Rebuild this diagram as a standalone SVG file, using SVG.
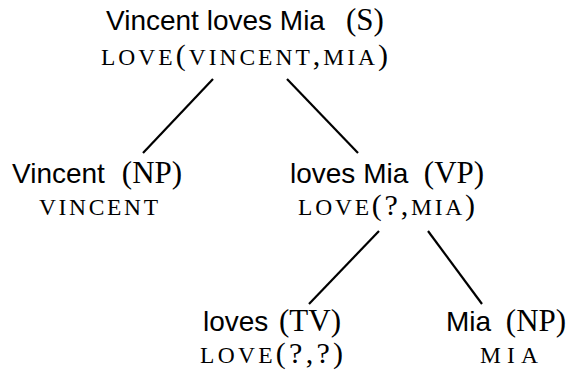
<svg xmlns="http://www.w3.org/2000/svg" width="573" height="379" viewBox="0 0 573 379">
<style>
.sf{font-family:"Liberation Sans","DejaVu Sans",sans-serif;font-size:28px;fill:#000}
.rm{font-family:"Liberation Serif","DejaVu Serif",serif;font-size:30px;fill:#000}
.cat{text-anchor:middle;font-size:31px}
.sc{font-size:23.5px}
.edge{stroke:#000;stroke-width:2.2;fill:none;stroke-linecap:butt}
</style>
<rect width="573" height="379" fill="#fff"/>
<g id="connectors">
<line class="edge" x1="213" y1="79" x2="143" y2="153"/>
<line class="edge" x1="287" y1="79" x2="358" y2="153"/>
<line class="edge" x1="379" y1="231" x2="309" y2="304"/>
<line class="edge" x1="428" y1="231" x2="482" y2="304"/>
</g>
<g id="node-S">
<text class="sf" x="106" y="30">Vincent loves Mia</text>
<text class="rm cat" x="365" y="30">(S)</text>
<text class="rm" x="101" y="65" textLength="287" lengthAdjust="spacing"><tspan class="sc">LOVE</tspan>(<tspan class="sc">VINCENT</tspan>,<tspan class="sc">MIA</tspan>)</text>
</g>
<g id="node-NP1">
<text class="sf" x="12" y="183">Vincent</text>
<text class="rm cat" x="152" y="183">(NP)</text>
<text class="rm" x="39" y="215" textLength="119" lengthAdjust="spacing"><tspan class="sc">VINCENT</tspan></text>
</g>
<g id="node-VP">
<text class="sf" x="290" y="183">loves Mia</text>
<text class="rm cat" x="454" y="183">(VP)</text>
<text class="rm" x="298" y="215" textLength="177" lengthAdjust="spacing"><tspan class="sc">LOVE</tspan>(?,<tspan class="sc">MIA</tspan>)</text>
</g>
<g id="node-TV">
<text class="sf" x="203" y="331">loves</text>
<text class="rm cat" x="310" y="331">(TV)</text>
<text class="rm" x="200" y="363" textLength="143" lengthAdjust="spacing"><tspan class="sc">LOVE</tspan>(?,?)</text>
</g>
<g id="node-NP2">
<text class="sf" x="446" y="331">Mia</text>
<text class="rm cat" x="536" y="331">(NP)</text>
<text class="rm" x="480" y="363" textLength="58" lengthAdjust="spacing"><tspan class="sc">MIA</tspan></text>
</g>
</svg>
